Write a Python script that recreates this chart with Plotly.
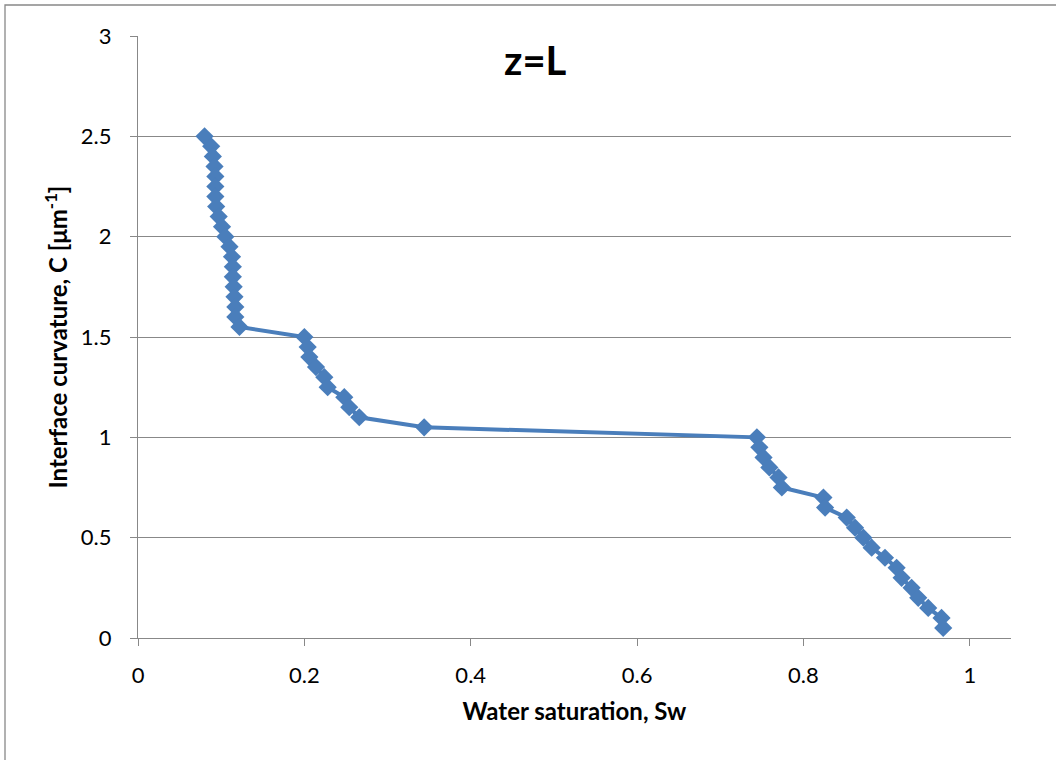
import plotly.graph_objects as go

# Data
curvature = [2.5, 2.45, 2.4, 2.35, 2.3, 2.25, 2.2, 2.15, 2.1, 2.05, 2.0, 1.95, 1.9, 1.85, 1.8,
             1.75, 1.7, 1.65, 1.6, 1.55, 1.5, 1.45, 1.4, 1.35, 1.3, 1.25, 1.2, 1.15, 1.1, 1.05,
             1.0, 0.95, 0.9, 0.85, 0.8, 0.75, 0.7, 0.65, 0.6, 0.55, 0.5, 0.45, 0.4, 0.35, 0.3,
             0.25, 0.2, 0.15, 0.1, 0.05]
saturation = [0.080, 0.088, 0.090, 0.092, 0.093, 0.093, 0.093, 0.094, 0.097, 0.101, 0.105, 0.110,
              0.113, 0.114, 0.114, 0.115, 0.116, 0.117, 0.117, 0.122,
              0.200, 0.204, 0.206, 0.214, 0.224, 0.228, 0.248, 0.254, 0.266, 0.344,
              0.744, 0.747, 0.752, 0.759, 0.770, 0.774, 0.824, 0.826, 0.852, 0.862, 0.872, 0.882,
              0.898, 0.912, 0.918, 0.930, 0.938, 0.950, 0.966, 0.968]
x_ticks = [0, 0.2, 0.4, 0.6, 0.8, 1.0]
x_tick_labels = ["0", "0.2", "0.4", "0.6", "0.8", "1"]
y_ticks = [0, 0.5, 1.0, 1.5, 2.0, 2.5, 3.0]
y_tick_labels = ["0", "0.5", "1", "1.5", "2", "2.5", "3"]

W, H = 1056, 760
ML, MR, MT, MB = 138, 45, 36, 122
PW, PH = W - ML - MR, H - MT - MB

BLUE = "#4A7EBB"
GRID = "#888888"
FONT = "Lato"

fig = go.Figure()
fig.add_trace(go.Scatter(
    x=saturation, y=curvature, mode="lines+markers",
    line=dict(color=BLUE, width=4),
    marker=dict(symbol="diamond", size=14, color=BLUE, line=dict(width=0)),
    showlegend=False, cliponaxis=False,
))

fig.update_layout(
    width=W, height=H,
    margin=dict(l=ML, r=MR, t=MT, b=MB),
    paper_bgcolor="white", plot_bgcolor="white",
    font=dict(family=FONT, color="black", size=22),
    xaxis=dict(
        range=[0, 1.0495], tickvals=x_ticks, ticktext=x_tick_labels,
        showgrid=False, zeroline=False,
        showline=True, linecolor=GRID, linewidth=1.3,
        ticks="outside", ticklen=7, tickcolor=GRID, tickwidth=1.3,
        ticklabelstandoff=10,
        tickfont=dict(size=22, family=FONT),
        title=dict(text="<b>Water saturation, Sw</b>", font=dict(size=24, family=FONT), standoff=16),
    ),
    yaxis=dict(
        range=[0, 3], tickvals=y_ticks, ticktext=y_tick_labels,
        showgrid=True, gridcolor=GRID, gridwidth=1.3, zeroline=False,
        showline=True, linecolor=GRID, linewidth=1.3,
        ticks="outside", ticklen=7, tickcolor=GRID, tickwidth=1.3,
        ticklabelstandoff=14,
        tickfont=dict(size=22, family=FONT),
        title=dict(text="<b>Interface curvature, C [μm<sup>-1</sup>]</b>", font=dict(size=24, family=FONT), standoff=6),
    ),
    shapes=[dict(
        type="rect", xref="paper", yref="paper",
        x0=(5 - ML) / PW, x1=(1062 - ML) / PW,
        y0=(H - MB - 766) / PH, y1=(H - MB - 5) / PH,
        line=dict(color=GRID, width=1.3), fillcolor="rgba(0,0,0,0)", layer="below",
    )],
    annotations=[dict(
        text="<b>z=L</b>", xref="paper", yref="paper",
        x=(535 - ML) / PW, y=(H - MB - 60) / PH,
        xanchor="center", yanchor="middle", showarrow=False,
        font=dict(size=40, family=FONT, color="black"),
    )],
)

fig.write_html("out.html")
